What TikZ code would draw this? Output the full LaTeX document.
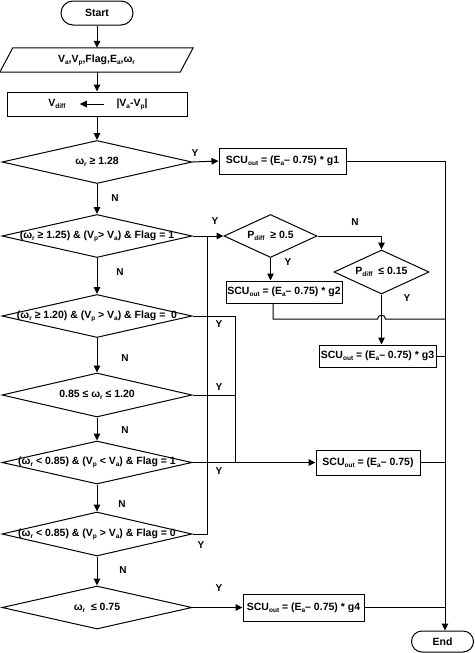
\documentclass[tikz,border=0pt]{standalone}
\usepackage{fontspec}
\setmainfont{Liberation Sans}
\usetikzlibrary{arrows.meta,shapes.geometric,shapes.misc}
\newcommand{\sbx}[1]{\raisebox{-0.35ex}{\fontsize{6.5}{7}\selectfont #1}}
\begin{document}
\begin{tikzpicture}[x=1pt,y=-1pt,
  every node/.style={font=\fontsize{10.5}{12}\selectfont\bfseries, inner sep=0pt},
  ln/.style={line width=1pt},
  arr/.style={line width=1pt,-{Triangle[length=7pt,width=6.5pt]}},
  box/.style={draw,line width=1pt,rectangle,minimum height=22pt},
  dec/.style={draw,diamond,line width=1pt,minimum width=190pt,minimum height=43pt},
  term/.style={draw,rounded rectangle,line width=1pt,minimum width=72pt,minimum height=24pt},
  lab/.style={font=\fontsize{10}{12}\selectfont\bfseries}
]
\useasboundingbox (0,0) rectangle (474,653);

% start / input / process
\node[term] (start) at (97,13) {Start};
\node[minimum width=193pt,minimum height=24pt] (inp) at (96.5,60) {V\sbx{a},V\sbx{p},Flag,E\sbx{a},ω\sbx{r}};
\draw[ln] ([xshift=13pt]inp.north west) -- (inp.north east) -- ([xshift=-13pt]inp.south east) -- (inp.south west) -- cycle;
\node[box,minimum width=180pt,minimum height=24pt] (proc) at (97,104) {};
\node (vd) at (57,104) {V\sbx{diff}};
\node (vav) at (132,104) {|V\sbx{a}-V\sbx{p}|};
\draw[arr] ([xshift=-12pt]vav.west) -- ([xshift=14pt]vd.east);

% decisions on the main column
\node[dec,label={center:{ω\sbx{r} ≥ 1.28}}] (d1) at (97,162) {};
\node[dec,label={center:{(ω\sbx{r} ≥ 1.25) \& (V\sbx{p}> V\sbx{a}) \& Flag = 1}}] (d2) at (97,236) {};
\node[dec,label={center:{(ω\sbx{r} ≥ 1.20) \& (V\sbx{p} > V\sbx{a}) \& Flag =\ \ 0}}] (d3) at (97,316) {};
\node[dec,minimum height=44pt,label={center:{0.85 ≤ ω\sbx{r} ≤ 1.20}}] (d4) at (97,395) {};
\node[dec,label={center:{(ω\sbx{r} < 0.85) \& (V\sbx{p} < V\sbx{a}) \& Flag = 1}}] (d5) at (97,462.5) {};
\node[dec,minimum height=44pt,label={center:{(ω\sbx{r} < 0.85) \& (V\sbx{p} > V\sbx{a}) \& Flag = 0}}] (d6) at (97,534) {};
\node[dec,label={center:{ω\sbx{r} \ ≤ 0.75}}] (d7) at (97,607.5) {};

% right side
\node[box,minimum width=127pt,minimum height=26pt] (g1) at (282.5,161) {SCU\sbx{out} = (E\sbx{a}– 0.75) * g1};
\node[dec,minimum width=93pt,minimum height=43pt,label={center:{P\sbx{diff} \ ≥ 0.5}}] (p1) at (270.5,236) {};
\node[dec,minimum width=95pt,minimum height=44pt,label={center:{P\sbx{diff} \ ≤ 0.15}}] (p2) at (381.5,272) {};
\node[box,minimum width=116pt] (g2) at (284,292) {SCU\sbx{out} = (E\sbx{a}– 0.75) * g2};
\node[box,minimum width=117pt] (g3) at (377.5,356) {SCU\sbx{out} = (E\sbx{a}– 0.75) * g3};
\node[box,minimum width=104pt,minimum height=25pt] (g0) at (368,462.5) {SCU\sbx{out} = (E\sbx{a}– 0.75)};
\node[box,minimum width=121pt,minimum height=27pt] (g4) at (303.5,607.5) {SCU\sbx{out} = (E\sbx{a}– 0.75) * g4};
\node[term,minimum width=62pt,minimum height=21pt] (endn) at (442.5,641.5) {End};

\coordinate (rt) at (445,161);
\coordinate (j1) at (207,236);
\coordinate (j2) at (235,462.5);

% main column arrows
\draw[arr] (start.south) -- (start.south |- inp.north);
\draw[arr] (start.south |- inp.south) -- (start.south |- proc.north);
\draw[arr] (proc.south) -- (d1.north);
\draw[arr] (d1.south) -- (d2.north);
\draw[arr] (d2.south) -- (d3.north);
\draw[arr] (d3.south) -- (d4.north);
\draw[arr] (d4.south) -- (d5.north);
\draw[arr] (d5.south) -- (d6.north);
\draw[arr] (d6.south) -- (d7.north);

% yes branches
\draw[arr] (d1.east) -- (g1.west);
\draw[arr] (d2.east) -- (p1.west);
\draw[ln] (d6.east) -| (j1);
\draw[ln] (d3.east) -| (j2);
\draw[ln] (d4.east) -- (d4.east -| j2);
\draw[arr] (d5.east) -- (g0.west);
\draw[arr] (d7.east) -- (g4.west);

\draw[arr] (p1.east) -| (p2.north);
\draw[arr] (p1.south) -- (p1.south |- g2.north);
\draw[arr] (p2.south) -- (p2.south |- g3.north);

% to the end rail
\draw[arr] (g1.east) -| (endn.north -| rt);
\draw[ln] (g2.south -| 273,0) -- (273,319) -- (377.5,319) .. controls (377.5,314) and (385.5,314) .. (385.5,319) -- (445,319);
\draw[ln] (g3.east) -- (g3.east -| rt);
\draw[ln] (g0.east) -- (g0.east -| rt);
\draw[ln] (g4.east) -- (g4.east -| rt);

% labels
\node[lab] (y1) at (195,153) {Y};
\node[lab] (y2) at (215,221) {Y};
\node[lab] (y3) at (219,324) {Y};
\node[lab] (y4) at (219,387) {Y};
\node[lab] (y5) at (219,471) {Y};
\node[lab] (y6) at (201,545) {Y};
\node[lab] (y7) at (219,588) {Y};
\node[lab] (yp1) at (288,262) {Y};
\node[lab] (np1) at (355,222) {N};
\node[lab] (yp2) at (407,298) {Y};
\node[lab] (n1) at (115,198) {N};
\node[lab] (n2) at (120,272) {N};
\node[lab] (n3) at (125,358) {N};
\node[lab] (n4) at (125,430) {N};
\node[lab] (n5) at (122,504) {N};
\node[lab] (n6) at (123,570) {N};
\end{tikzpicture}
\end{document}
